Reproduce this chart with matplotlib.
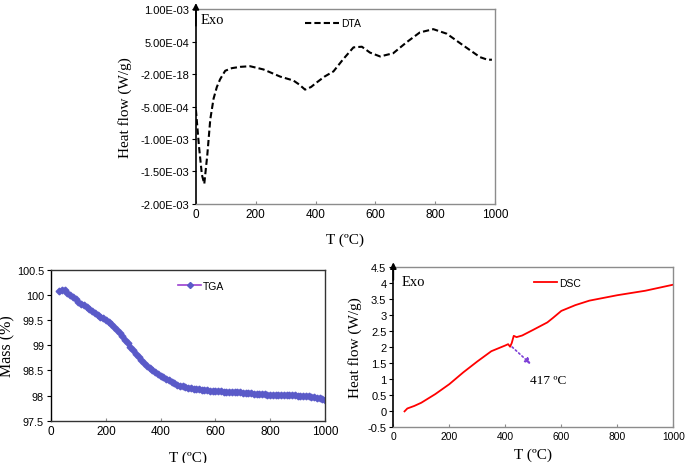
# coding: utf-8
import matplotlib
matplotlib.use('Agg')
import matplotlib.pyplot as plt
import numpy as np

##### data #####
# DTA (top)
dta_t = [0, 10, 20, 28, 38, 48, 59, 70, 81, 98, 120, 148, 181, 226, 282, 326, 345,
         365, 385, 404, 430, 460, 493, 527, 555, 582, 616, 660, 705, 749, 794, 839,
         894, 950, 975, 990]
dta_v = [-5.5, -11.0, -15.5, -16.9, -12.5, -7.0, -3.8, -2.0, -0.8, 0.5, 0.9, 1.1, 1.2,
         0.7, -0.4, -1.0, -1.6, -2.4, -2.0, -1.3, -0.4, 0.4, 2.3, 4.1, 4.2, 3.3, 2.7,
         3.2, 4.9, 6.4, 6.9, 6.2, 4.4, 2.6, 2.2, 2.2]
dta_v = [v * 1e-4 for v in dta_v]
dta_yticks = [1e-3, 5e-4, 0, -5e-4, -1e-3, -1.5e-3, -2e-3]
dta_ylabels = ['1.00E-03', '5.00E-04', '-2.00E-18', '-5.00E-04', '-1.00E-03',
               '-1.50E-03', '-2.00E-03']

# TGA (bottom left), one point every 10 C from 30 to 1000
tga_t = list(range(30, 1001, 10))
tga_v = [100.08, 100.10, 100.10, 100.05, 100.00, 99.96, 99.92, 99.87, 99.83, 99.80,
         99.77, 99.73, 99.69, 99.65, 99.61, 99.57, 99.54, 99.50, 99.46, 99.42,
         99.37, 99.31, 99.25, 99.18, 99.11, 99.04, 98.97, 98.90, 98.83, 98.76,
         98.70, 98.64, 98.59, 98.54, 98.50, 98.46, 98.42, 98.39, 98.36, 98.33,
         98.30, 98.27, 98.25, 98.22, 98.20, 98.19, 98.17, 98.16, 98.15, 98.14,
         98.13, 98.13, 98.12, 98.11, 98.11, 98.10, 98.10, 98.09, 98.09, 98.09,
         98.08, 98.08, 98.08, 98.08, 98.07, 98.07, 98.07, 98.06, 98.06, 98.05,
         98.05, 98.04, 98.04, 98.03, 98.03, 98.03, 98.02, 98.02, 98.02, 98.02,
         98.02, 98.01, 98.01, 98.01, 98.01, 98.01, 98.01, 98.00, 98.00, 98.00,
         98.00, 97.99, 97.98, 97.97, 97.96, 97.95, 97.93, 97.92]
tga_yticks = [97.5, 98, 98.5, 99, 99.5, 100, 100.5]
tga_ylabels = ['97.5', '98', '98.5', '99', '99.5', '100', '100.5']

# DSC (bottom right)
dsc_t = [40, 50, 75, 100, 150, 200, 250, 300, 350, 400, 410, 417, 423, 430, 440,
         460, 500, 550, 570, 600, 650, 700, 800, 900, 1000]
dsc_v = [-0.02, 0.07, 0.15, 0.25, 0.52, 0.83, 1.20, 1.54, 1.86, 2.04, 2.08, 2.00,
         2.12, 2.34, 2.30, 2.35, 2.53, 2.76, 2.90, 3.12, 3.30, 3.44, 3.61, 3.75, 3.94]
dsc_ylabels = ['-0.5', '0', '0.5', '1', '1.5', '2', '2.5', '3', '3.5', '4', '4.5']
dsc_peak = (417, 2.05)
dsc_note = (498, 1.40)

SANS = 'Liberation Sans'
SERIF = 'Liberation Serif'
GRAY = '#8c8c8c'

fig = plt.figure(figsize=(6.85, 4.64), dpi=100)

def style_axes(ax, left_arrow=True, frame=GRAY):
    for s in ['top', 'right', 'bottom']:
        ax.spines[s].set_color(frame)
        ax.spines[s].set_linewidth(1.0)
    ax.spines['left'].set_color('k')
    ax.spines['left'].set_linewidth(1.2)
    ax.tick_params(axis='y', direction='out', length=3, width=0.8, labelsize=8, pad=2)
    ax.tick_params(axis='x', direction='in', length=2, width=0.8, color=GRAY,
                   labelsize=8.5, pad=3)
    for lab in ax.get_xticklabels() + ax.get_yticklabels():
        lab.set_family(SANS)
    if left_arrow:
        ax.annotate('', xy=(0, 1.045), xytext=(0, 0.9), xycoords='axes fraction',
                    arrowprops=dict(arrowstyle='-|>', color='k', lw=1.2,
                                    mutation_scale=9))

##### DTA #####
ax1 = fig.add_axes([0.286, 0.5582, 0.4365, 0.4202])
ax1.plot(dta_t, dta_v, color='k', ls=(0, (3, 1.5)), lw=1.5, label='DTA')
ax1.set_xlim(0, 1000)
ax1.set_ylim(-2e-3, 1e-3)
ax1.set_xticks(range(0, 1001, 200))
ax1.set_yticks(dta_yticks)
ax1.set_yticklabels(dta_ylabels)
style_axes(ax1)
ax1.set_xlabel('T (ºC)', family=SERIF, fontsize=11, labelpad=9)
ax1.set_ylabel('Heat flow (W/g)', family=SERIF, fontsize=11, labelpad=6)
ax1.text(0.015, 0.98, 'Exo', transform=ax1.transAxes, family=SERIF, fontsize=10.5,
         va='top', ha='left')
ax1.legend(loc='upper left', bbox_to_anchor=(0.335, 1.0), frameon=False,
           prop={'family': SANS, 'size': 7.5}, handlelength=3.2, handletextpad=0.2)

##### TGA #####
ax2 = fig.add_axes([0.0745, 0.0912, 0.400, 0.3248])
ax2.plot(tga_t, tga_v, color='#9b3fd0', lw=1.2, marker='D', ms=3.4,
         mfc='#5a5ac8', mec='#5a5ac8', label='TGA')
ax2.set_xlim(0, 1000)
ax2.set_ylim(97.5, 100.5)
ax2.set_xticks(range(0, 1001, 200))
ax2.set_yticks(tga_yticks)
ax2.set_yticklabels(tga_ylabels)
style_axes(ax2, left_arrow=False, frame='#333333')
ax2.tick_params(axis='y', labelsize=7.8)
ax2.spines['left'].set_linewidth(1.0)
ax2.set_xlabel('T (ºC)', family=SERIF, fontsize=11, labelpad=10)
ax2.set_ylabel('Mass (%)', family=SERIF, fontsize=11.5)
ax2.yaxis.set_label_coords(-0.13, 0.5)
ax2.legend(loc='upper left', bbox_to_anchor=(0.43, 0.99), frameon=False,
           prop={'family': SANS, 'size': 7.5}, handlelength=2.2, handletextpad=0.2,
           markerscale=0.9)

##### DSC #####
ax3 = fig.add_axes([0.5742, 0.0782, 0.4088, 0.3448])
ax3.plot(dsc_t, dsc_v, color='#ff0000', lw=1.3, label='DSC')
ax3.set_xlim(0, 1000)
ax3.set_ylim(-0.5, 4.5)
ax3.set_xticks(range(0, 1001, 200))
ax3.set_yticks(np.arange(-0.5, 4.51, 0.5))
ax3.set_yticklabels(dsc_ylabels)
style_axes(ax3)
ax3.tick_params(axis='x', labelsize=7.4)
ax3.set_xlabel('T (ºC)', family=SERIF, fontsize=11, labelpad=5)
ax3.set_ylabel('Heat flow (W/g)', family=SERIF, fontsize=11, labelpad=4)
ax3.text(0.03, 0.95, 'Exo', transform=ax3.transAxes, family=SERIF, fontsize=10.5,
         va='top', ha='left')
ax3.annotate('', xy=dsc_note, xytext=dsc_peak,
             arrowprops=dict(arrowstyle='-|>', color='#7d3fd6', lw=1.2, ls=':',
                             mutation_scale=8))
ax3.text(487, 0.97, '417 ºC', family=SERIF, fontsize=9.5, va='center', ha='left')
ax3.legend(loc='upper left', bbox_to_anchor=(0.47, 0.99), frameon=False,
           prop={'family': SANS, 'size': 7.5}, handlelength=2.2, handletextpad=0.2)

fig.savefig('out.png', dpi=100)
